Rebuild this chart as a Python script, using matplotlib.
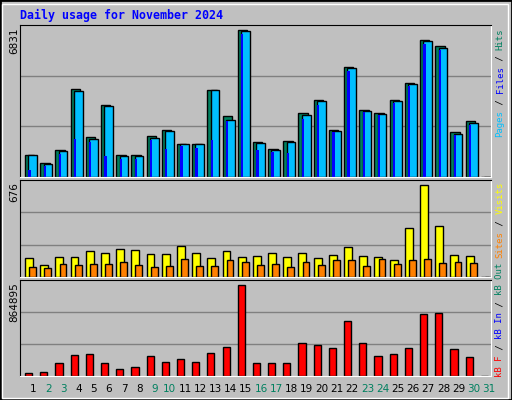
import numpy as np
import matplotlib.pyplot as plt
from matplotlib.patches import Rectangle

days = list(range(1, 32))
hits = [1035, 665, 1267, 4096, 1839, 3354, 1035, 1035, 1916, 2195, 1545, 1545, 4049, 2844, 6831,
        1638, 1314, 1685, 2983, 3586, 2195, 5116, 3122, 2983, 3586, 4374, 6367, 6089, 2102, 2612, 0]
files = [1035, 618, 1221, 4003, 1777, 3307, 989, 989, 1824, 2148, 1545, 1545, 4049, 2658, 6785,
         1592, 1267, 1638, 2890, 3539, 2148, 5069, 3075, 2936, 3539, 4327, 6321, 5996, 2009, 2519, 0]
pages = [340, 525, 1082, 1777, 1638, 989, 850, 850, 1731, 1314, 1453, 1360, 1731, 2612, 6645,
         1267, 1174, 1128, 2704, 3354, 2102, 4930, 3029, 2890, 3446, 4234, 6182, 5904, 1963, 2426, 0]
visits = [142, 90, 149, 149, 193, 178, 207, 200, 171, 171, 229, 178, 142, 193, 149,
          156, 178, 149, 178, 142, 164, 222, 156, 149, 127, 361, 676, 376, 164, 156, 0]
sites = [76, 68, 98, 90, 98, 98, 112, 90, 76, 83, 134, 83, 83, 127, 112,
         90, 98, 76, 112, 90, 127, 127, 83, 134, 98, 127, 134, 105, 112, 105, 0]
kbytes = [31566, 41036, 126264, 202022, 211491, 126264, 69445, 88385, 192552, 135734, 164142, 135734,
          220961, 277780, 864895, 126264, 126264, 126264, 315659, 296720, 268309, 523995, 315659,
          192552, 211491, 268309, 590282, 599752, 258839, 183082, 0]
weekend = [2, 3, 9, 10, 16, 17, 23, 24, 30, 31]

BG = '#C0C0C0'
GREEN = '#00805F'
W, H = 512, 400
fig = plt.figure(figsize=(5.12, 4.0), dpi=100, facecolor=BG)
fig.patches.append(Rectangle((0, 0), 1, 1, transform=fig.transFigure, fill=False, ec='black', lw=2))
fig.patches.append(Rectangle((2/W, 2/H), 1-6/W, 1-6/H, transform=fig.transFigure, fill=False, ec='white', lw=1))


def panel(top_px, bot_px, ymax):
    ax = fig.add_axes([20/W, (H-bot_px)/H, 471/W, (bot_px-top_px)/H])
    ax.set_facecolor(BG)
    ax.set_xlim(0, 31)
    ax.set_ylim(0, ymax)
    for f in (1/3, 2/3):
        ax.axhline(ymax*f, color='#808080', lw=1, zorder=0)
    ax.set_xticks([])
    ax.set_yticks([])
    for s in ('left', 'top'):
        ax.spines[s].set_color('black')
    for s in ('right', 'bottom'):
        ax.spines[s].set_color('white')
    return ax


x = np.arange(31)
ax1 = panel(25, 177, 6831*152/147)
ax1.bar(x+0.33, hits, width=0.62, align='edge', color=GREEN, ec='black', lw=1)
ax1.bar(x+0.55, files, width=0.57, align='edge', color='#00BFFF', ec='black', lw=1)
ax1.bar(x+0.55, pages, width=0.15, align='edge', color='#0000FF', lw=0)

ax2 = panel(180, 277, 676*97/92.3)
ax2.bar(x+0.33, visits, width=0.52, align='edge', color='#FFFF00', ec='black', lw=1)
ax2.bar(x+0.6, sites, width=0.45, align='edge', color='#FF8000', ec='black', lw=1)

ax3 = panel(280, 376, 864895*96/91.3)
ax3.bar(x+0.33, kbytes, width=0.47, align='edge', color='#FF0000', ec='black', lw=1)

fig.text(20/W, 1-15/H, 'Daily usage for November 2024', color='#0000FF', family='DejaVu Sans Mono',
         fontweight='bold', fontsize=8.4, va='center', ha='left')

for txt, ytop in (('6831', 28), ('676', 182), ('864895', 282)):
    fig.text(14/W, 1-ytop/H, txt, rotation=90, fontsize=7.5, va='top', ha='center')

for d in days:
    c = GREEN if d in weekend else 'black'
    fig.text((20+15.2*(d-1)+13)/W, 1-389/H, str(d), color=c, fontsize=7.5, ha='center', va='center')

CH = 5.45


def side_label(parts, ybot):
    y = ybot
    for txt, col in parts:
        fig.text(500/W, 1-y/H, txt, color=col, rotation=90, family='DejaVu Sans Mono',
                 fontsize=6.5, ha='center', va='bottom')
        y -= CH*len(txt)


side_label([('Pages', '#00BFFF'), (' / ', 'black'), ('Files', '#0000FF'), (' / ', 'black'),
            ('Hits', GREEN)], 137)
side_label([('Sites', '#FF8000'), (' / ', 'black'), ('Visits', '#FFFF00')], 258)
side_label([('kB F', '#FF0000'), (' / ', 'black'), ('kB In', '#0000FF'), (' / ', 'black'),
            ('kB Out', GREEN)], 377)

fig.savefig('out.png', dpi=100, facecolor=BG)
